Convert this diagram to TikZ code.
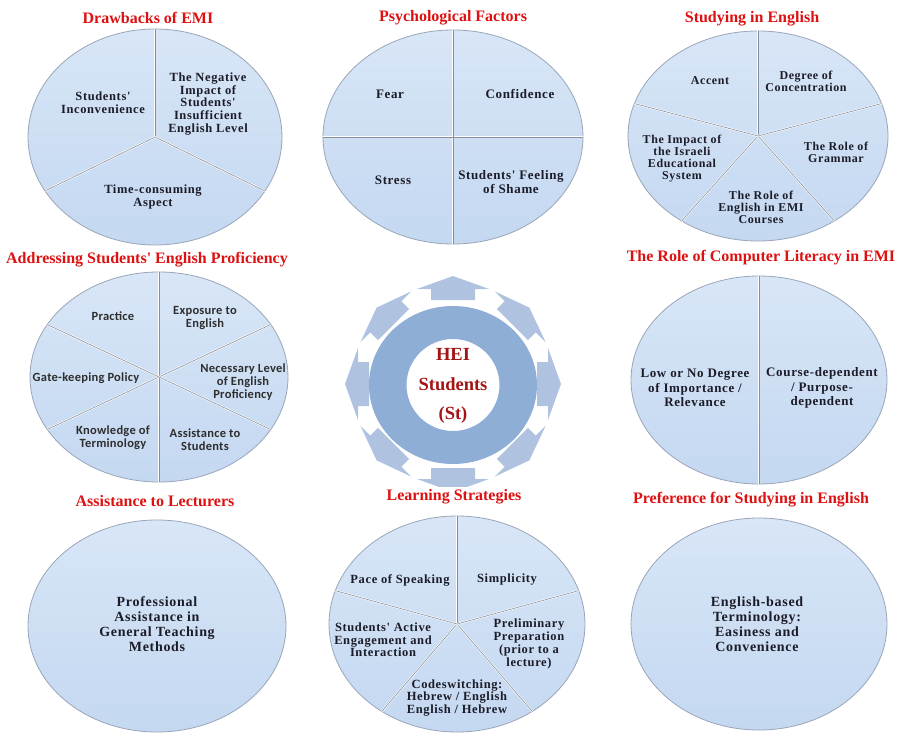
\documentclass[tikz,border=0pt]{standalone}
\usepackage{fontspec}
\setmainfont{Liberation Serif}
\newfontfamily\titlef{Liberation Serif}
\newfontfamily\pief{Liberation Serif}[LetterSpace=5]
\newfontfamily\piesf{Carlito}[LetterSpace=2]
\usetikzlibrary{shapes.geometric}

\definecolor{pietop}{HTML}{D8E6F7}
\definecolor{piebot}{HTML}{C4D8F1}
\definecolor{pieedge}{HTML}{9AA6B8}
\definecolor{sepgray}{HTML}{858E9C}
\definecolor{titlered}{HTML}{DD1111}
\definecolor{hubred}{HTML}{A31515}
\definecolor{ringblue}{HTML}{8FAED6}
\definecolor{arrowblue}{HTML}{AFC3E0}
\definecolor{ink}{HTML}{1C1C28}
\definecolor{inkgray}{HTML}{2E2E2E}

\tikzset{
  pie/.style={ellipse, draw=pieedge, line width=0.8pt, top color=pietop,
    bottom color=piebot, inner sep=0pt, outer sep=0pt},
  sepw/.style={white, line width=1.8pt},
  sepg/.style={sepgray, line width=0.6pt},
  ttl/.style={anchor=base, text=titlered, inner sep=0pt,
    font=\titlef\bfseries\fontsize{16}{18}\selectfont},
  lbl/.style={align=center, text=ink, inner sep=0pt,
    font=\pief\bfseries\fontsize{12.5}{12.7}\selectfont},
  lblsf/.style={align=center, text=inkgray, inner sep=0pt,
    font=\piesf\bfseries\fontsize{12.5}{12.7}\selectfont},
  lblsm/.style={lbl, font=\pief\bfseries\fontsize{12}{12}\selectfont},
  lblmd/.style={lbl, font=\pief\bfseries\fontsize{13}{14.2}\selectfont},
  lblbig/.style={lbl, font=\pief\bfseries\fontsize{14}{14.9}\selectfont},
  hub/.style={align=center, text=hubred, inner sep=0pt,
    font=\titlef\bfseries\fontsize{18.5}{29.5}\selectfont},
  cyclearrow/.style={arrowblue},
}

\begin{document}
\begin{tikzpicture}[x=1pt, y=-1pt]
\fill[white] (0,0) rectangle (900,733);
\useasboundingbox (0,0) rectangle (900,733);

% ---------------- pies ----------------
\node[pie, minimum width=254, minimum height=216] (p1) at (155,137) {};
\node[pie, minimum width=260, minimum height=214] (p2) at (453,137) {};
\node[pie, minimum width=260, minimum height=210] (p3) at (758,136) {};
\node[pie, minimum width=258, minimum height=210] (p4) at (159,377) {};
\node[pie, minimum width=256, minimum height=208] (p5) at (759,380) {};
\node[pie, minimum width=258, minimum height=212] (p6) at (157,626) {};
\node[pie, minimum width=256, minimum height=216] (p7) at (457,624) {};
\node[pie, minimum width=256, minimum height=212] (p8) at (759,624) {};

% separators between the slices
\foreach \a in {-90,30,150} {
  \draw[sepw] (p1.center) -- ++(\a:127 and 108);
  \draw[sepg] (p1.center) -- ++(\a:127 and 108);}
\foreach \a in {0,90,180,270} {
  \draw[sepw] (p2.center) -- ++(\a:130 and 107);
  \draw[sepg] (p2.center) -- ++(\a:130 and 107);}
\foreach \a in {-90,-18,54,126,198} {
  \draw[sepw] (p3.center) -- ++(\a:130 and 105);
  \draw[sepg] (p3.center) -- ++(\a:130 and 105);}
\foreach \a in {-90,-30,30,90,150,210} {
  \draw[sepw] (p4.center) -- ++(\a:129 and 105);
  \draw[sepg] (p4.center) -- ++(\a:129 and 105);}
\foreach \a in {-90,90} {
  \draw[sepw] (p5.center) -- ++(\a:128 and 104);
  \draw[sepg] (p5.center) -- ++(\a:128 and 104);}
\foreach \a in {-90,-18,54,126,198} {
  \draw[sepw] (p7.center) -- ++(\a:128 and 108);
  \draw[sepg] (p7.center) -- ++(\a:128 and 108);}

% ---------------- central hub ----------------
\begin{scope}[shift={(453,384)}]
  \foreach \a in {0,45,...,315}
    \fill[cyclearrow, rotate=\a]
      (-22,-84) -- (-22,-95) -- (-36,-95) -- (0,-108) -- (36,-95)
      -- (22,-95) -- (22,-84) -- cycle;
\end{scope}
\fill[ringblue, even odd rule]
  (453,385) ellipse [x radius=84, y radius=79]
  (453,385) ellipse [x radius=46.5, y radius=46];
\node[hub] (hubtext) at (453,386) {HEI\\Students\\(St)};

% ---------------- titles ----------------
\node[ttl] (t1) at (148,24)  {Drawbacks of EMI};
\node[ttl] (t2) at (453,22)  {Psychological Factors};
\node[ttl] (t3) at (752,23)  {Studying in English};
\node[ttl] (t4) at (147,263) {Addressing Students' English Proficiency};
\node[ttl] (t5) at (761,261) {The Role of Computer Literacy in EMI};
\node[ttl] (t6) at (155,506) {Assistance to Lecturers};
\node[ttl, fill=white, inner sep=1.5pt] (t7) at (454,500) {Learning Strategies};
\node[ttl] (t8) at (751,503) {Preference for Studying in English};

% ---------------- slice labels ----------------
% Drawbacks of EMI
\node[lbl] (a1) at (103,103) {Students'\\Inconvenience};
\node[lbl] (a2) at (208,104) {The Negative\\Impact of\\Students'\\Insufficient\\English Level};
\node[lbl] (a3) at (153,197) {Time-consuming\\Aspect};
% Psychological Factors
\node[lblmd] (b1) at (390,94)  {Fear};
\node[lblmd] (b2) at (520,94)  {Confidence};
\node[lblmd] (b3) at (393,180) {Stress};
\node[lblmd] (b4) at (511,182) {Students' Feeling\\of Shame};
% Studying in English
\node[lblsm] (c1) at (710,81)  {Accent};
\node[lblsm] (c2) at (806,81)  {Degree of\\Concentration};
\node[lblsm] (c3) at (836,152) {The Role of\\Grammar};
\node[lblsm] (c4) at (682,159) {The Impact of\\the Israeli\\Educational\\System};
\node[lblsm] (c5) at (761,207) {The Role of\\English in EMI\\Courses};
% Addressing Students' English Proficiency
\node[lblsf] (d1) at (113,316) {Practice};
\node[lblsf] (d2) at (205,318) {Exposure to\\English};
\node[lblsf] (d3) at (86,378)  {Gate-keeping Policy};
\node[lblsf] (d4) at (243,382) {Necessary Level\\of English\\Proficiency};
\node[lblsf] (d5) at (113,438) {Knowledge of\\Terminology};
\node[lblsf] (d6) at (205,440) {Assistance to\\Students};
% The Role of Computer Literacy in EMI
\node[lblmd] (e1) at (695,388) {Low or No Degree\\of Importance /\\Relevance};
\node[lblmd] (e2) at (822,388) {Course-dependent\\/ Purpose-\\dependent};
% Assistance to Lecturers
\node[lblbig] (f1) at (157,624) {Professional\\Assistance in\\General Teaching\\Methods};
% Learning Strategies
\node[lbl] (g1) at (400,580) {Pace of Speaking};
\node[lbl] (g2) at (507,580) {Simplicity};
\node[lbl] (g3) at (383,640) {Students' Active\\Engagement and\\Interaction};
\node[lbl] (g4) at (529,644) {Preliminary\\Preparation\\(prior to a\\lecture)};
\node[lbl] (g5) at (457,698) {Codeswitching:\\Hebrew / English\\English / Hebrew};
% Preference for Studying in English
\node[lblbig] (h1) at (757,624) {English-based\\Terminology:\\Easiness and\\Convenience};

\end{tikzpicture}
\end{document}
